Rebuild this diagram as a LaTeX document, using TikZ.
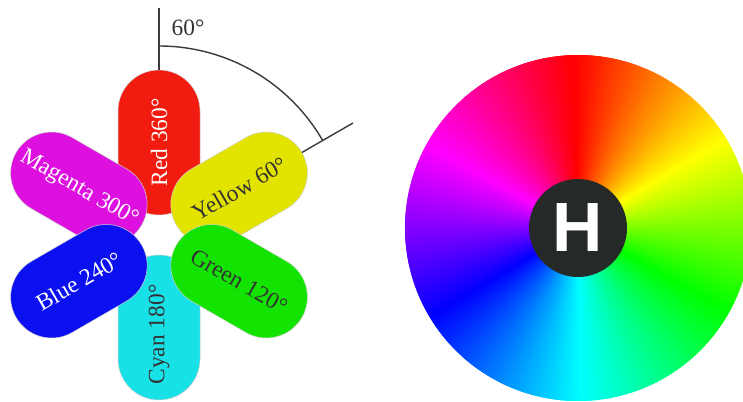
\documentclass[tikz,border=0pt]{standalone}
\usepackage{fontspec}
\setmainfont{Liberation Serif}
\newfontfamily\hfont{Liberation Sans}
\usetikzlibrary{calc,shapes.misc}
\definecolor{cred}{HTML}{F21B10}
\definecolor{cmag}{HTML}{DD10DF}
\definecolor{cyel}{HTML}{E3E300}
\definecolor{cblue}{HTML}{0A10F0}
\definecolor{cgreen}{HTML}{12E300}
\definecolor{ccyan}{HTML}{17E0E6}
\definecolor{tdark}{HTML}{333333}
\definecolor{lineg}{HTML}{3A3A3A}
\definecolor{hdark}{HTML}{252A28}
\begin{document}
\begin{tikzpicture}[x=1bp,y=1bp,
  petal/.style={rounded rectangle, minimum width=145bp, minimum height=82bp,
    inner sep=0pt, draw=black!18, line width=0.5bp,
    font=\fontsize{23.5}{25}\selectfont},
  guide/.style={draw=lineg, line width=1.4bp}]
\useasboundingbox (0,0) rectangle (743,401);
\clip (0,0) rectangle (743,401);
% flower
\coordinate (C) at (159,166);
\node[petal, fill=cred, text=white, rotate=90] (red) at ($(C)+(90:92.5)$) {Red 360°};
\node[petal, fill=ccyan, text=tdark, rotate=90] (cyan) at ($(C)+(-90:92.5)$) {Cyan 180°\hspace*{14bp}};
\node[petal, fill=cmag, text=white, rotate=-30] (magenta) at ($(C)+(150:92.5)$) {Magenta 300°};
\node[petal, fill=cyel, text=tdark, rotate=30] (yellow) at ($(C)+(30:92.5)$) {Yellow 60°};
\node[petal, fill=cblue, text=white, rotate=30] (blue) at ($(C)+(210:92.5)$) {Blue 240°};
\node[petal, fill=cgreen, text=tdark, rotate=-30] (green) at ($(C)+(-30:92.5)$) {Green 120°};
% angle guides
\coordinate (v1) at ($(C)+(90:165)$);
\coordinate (v2) at ($(C)+(90:227)$);
\coordinate (s1) at ($(C)+(30:165)$);
\coordinate (s2) at ($(C)+(30:224)$);
\coordinate (a1) at ($(C)+(90:189)$);
\draw[guide] (v1) -- (v2);
\draw[guide] (s1) -- (s2);
\draw[guide] (a1) arc[start angle=90, end angle=30, radius=189];
\node[text=tdark, font=\fontsize{23.5}{25}\selectfont] (deg) at (188,373) {60°};
% hue wheel
\coordinate (W) at (578,173);
\foreach \i in {0,...,359}{
  \definecolor{hc}{Hsb}{\i,1,1}
  \pgfmathsetmacro\a{90-\i}
  \fill[hc] (W) -- ++(\a+1.6:173) arc[start angle=\a+1.6, end angle=\a-0.5, radius=173] -- cycle;
}
\node[circle, fill=hdark, minimum size=98bp, inner sep=0pt, text=white,
  font=\hfont\bfseries\fontsize{70}{70}\selectfont] (H) at (W) {H};
\end{tikzpicture}
\end{document}
